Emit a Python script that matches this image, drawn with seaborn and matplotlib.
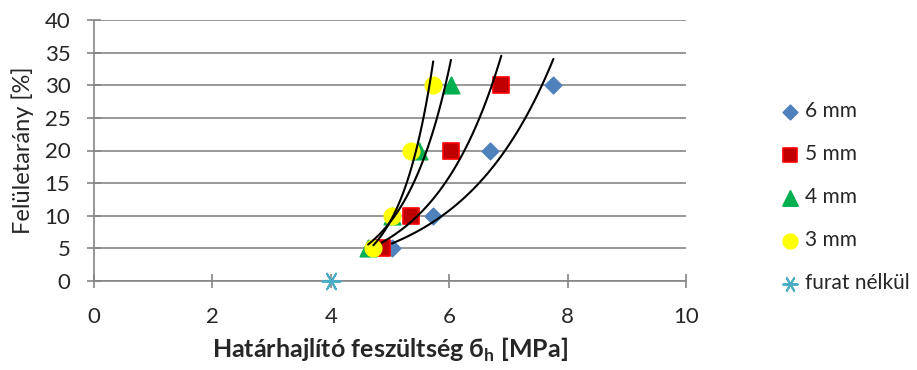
import numpy as np
import pandas as pd
import matplotlib
matplotlib.use("Agg")
import matplotlib.pyplot as plt
import seaborn as sns

# ---- data ----
series_names = ["6 mm", "5 mm", "4 mm", "3 mm"]
x_6mm = [5.03, 5.73, 6.69, 7.76]
x_5mm = [4.86, 5.35, 6.03, 6.88]
x_4mm = [4.63, 5.03, 5.49, 6.03]
x_3mm = [4.72, 5.03, 5.35, 5.73]
y_vals = [5, 10, 20, 30]
ref_name = "furat nélkül"
ref_x = [4.0]
ref_y = [0]
x_ticks = [0, 2, 4, 6, 8, 10]
y_ticks = [0, 5, 10, 15, 20, 25, 30, 35, 40]

sns.set_theme(style="white")
plt.rcParams["font.family"] = ["Lato", "DejaVu Sans"]
plt.rcParams["mathtext.fontset"] = "custom"
plt.rcParams["mathtext.rm"] = "Lato"
plt.rcParams["mathtext.bf"] = "Lato:bold"

xs = [x_6mm, x_5mm, x_4mm, x_3mm]
rows = []
for name, xv in zip(series_names, xs):
    for xx, yy in zip(xv, y_vals):
        rows.append({"x": xx, "y": yy, "series": name})
for xx, yy in zip(ref_x, ref_y):
    rows.append({"x": xx, "y": yy, "series": ref_name})
df = pd.DataFrame(rows)

order = series_names + [ref_name]
fills = {"6 mm": "#4F81BD", "5 mm": "#C00000", "4 mm": "#00B050",
         "3 mm": "#FFFF00", ref_name: "#4BACC6"}
edges = {"6 mm": "#4F81BD", "5 mm": "#FF0000", "4 mm": "#00B050",
         "3 mm": "#FFFF00", ref_name: "#4BACC6"}
markers = {"6 mm": "D", "5 mm": "s", "4 mm": "^", "3 mm": "o"}
sizes = {"6 mm": 70, "5 mm": 125, "4 mm": 140, "3 mm": 140}
leg_sizes = {"6 mm": 55, "5 mm": 100, "4 mm": 120, "3 mm": 110, ref_name: 110}
star = (6, 2, 90)

fig = plt.figure(figsize=(9.17, 3.70), dpi=100)
ax = fig.add_axes([94/917, 1-281/370, (686-94)/917, (281-20)/370])

handles = []
for name in order:
    sub = df[df["series"] == name]
    if name == ref_name:
        sns.scatterplot(data=sub, x="x", y="y", ax=ax, marker=star, s=170,
                        facecolor=fills[name], edgecolor=fills[name],
                        linewidth=1.4, zorder=6, clip_on=False, legend=False)
        h = ax.scatter([], [], marker=star, s=leg_sizes[name],
                       facecolor=fills[name], edgecolor=fills[name], linewidths=1.4)
    else:
        sns.scatterplot(data=sub, x="x", y="y", ax=ax, marker=markers[name],
                        s=sizes[name], color=fills[name], edgecolor=edges[name],
                        linewidth=1.2, zorder=3, legend=False)
        h = ax.scatter([], [], marker=markers[name], s=leg_sizes[name],
                       color=fills[name], edgecolor=edges[name], linewidth=1.2)
    handles.append(h)

# exponential trend lines (Excel-style), computed from the data
for xv in xs:
    b, lna = np.polyfit(np.array(xv), np.log(np.array(y_vals, dtype=float)), 1)
    xx = np.linspace(min(xv), max(xv), 100)
    sns.lineplot(x=xx, y=np.exp(lna) * np.exp(b * xx), ax=ax, color="black",
                 linewidth=1.5, zorder=5, legend=False)

ax.set_xlim(0, 10)
ax.set_ylim(0, 40)
ax.set_xticks(x_ticks)
ax.set_yticks(y_ticks)
ax.yaxis.grid(True, color="#868686", linewidth=1.2)
ax.set_axisbelow(True)
for s in ["top", "right"]:
    ax.spines[s].set_visible(False)
for s in ["left", "bottom"]:
    ax.spines[s].set_color("#868686")
    ax.spines[s].set_linewidth(1.2)
ax.tick_params(axis="y", direction="inout", length=10, width=1.2, color="#868686",
               labelsize=16, pad=12, left=True)
ax.tick_params(axis="x", direction="inout", length=10, width=1.2, color="#868686",
               labelsize=16, pad=14, bottom=True)
ax.set_ylabel("Felületarány [%]", fontsize=17, labelpad=8)
ax.set_xlabel(r"Határhajlító feszültség б$_\mathbf{h}$ [MPa]", fontsize=18,
              fontweight="bold", labelpad=6)

ax.legend(handles=handles, labels=order, loc="upper left",
          bbox_to_anchor=(766/917, 1-91/370), bbox_transform=fig.transFigure,
          frameon=False, fontsize=15, labelspacing=1.1, handletextpad=0.05,
          handlelength=1.3, borderpad=0)

fig.savefig("out.png", dpi=100)
